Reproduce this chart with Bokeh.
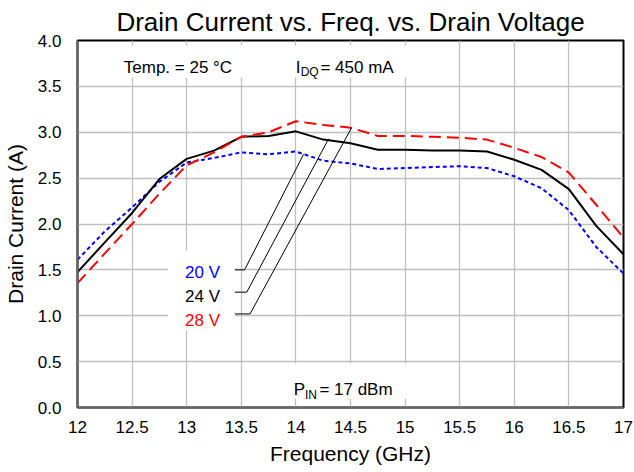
from bokeh.plotting import figure
from bokeh.models import Range1d, FixedTicker, NumeralTickFormatter, Label, BoxAnnotation, ColumnDataSource
from bokeh.embed import file_html
from bokeh.resources import INLINE

# ---- data ----
freq = [12.0, 12.25, 12.5, 12.75, 13.0, 13.25, 13.5, 13.75, 14.0, 14.25, 14.5,
        14.75, 15.0, 15.25, 15.5, 15.75, 16.0, 16.25, 16.5, 16.75, 17.0]
i_20v = [1.61, 1.92, 2.18, 2.46, 2.67, 2.72, 2.78, 2.76, 2.79, 2.69, 2.66,
         2.60, 2.61, 2.62, 2.63, 2.61, 2.52, 2.39, 2.15, 1.75, 1.46]
i_24v = [1.475, 1.80, 2.12, 2.49, 2.71, 2.80, 2.95, 2.96, 3.01, 2.92, 2.88,
         2.81, 2.81, 2.80, 2.80, 2.79, 2.70, 2.59, 2.38, 1.98, 1.67]
i_28v = [1.355, 1.68, 2.00, 2.33, 2.64, 2.78, 2.95, 3.00, 3.12, 3.08, 3.05,
         2.96, 2.96, 2.95, 2.94, 2.92, 2.83, 2.73, 2.56, 2.21, 1.85]
series_names = ["20 V", "24 V", "28 V"]
x_ticks = [12, 12.5, 13, 13.5, 14, 14.5, 15, 15.5, 16, 16.5, 17]
x_tick_labels = ["12", "12.5", "13", "13.5", "14", "14.5", "15", "15.5", "16", "16.5", "17"]
y_ticks = [0.0, 0.5, 1.0, 1.5, 2.0, 2.5, 3.0, 3.5, 4.0]

FONT = "Liberation Sans"

p = figure(width=634, height=472, output_backend="svg", toolbar_location=None,
           x_range=Range1d(12, 17), y_range=Range1d(0, 4),
           min_border_left=75, min_border_right=11, min_border_top=40, min_border_bottom=65,
           title="Drain Current vs. Freq. vs. Drain Voltage")
p.background_fill_color = "white"
p.border_fill_color = "white"
p.outline_line_color = "black"
p.outline_line_width = 2

p.title.text_font = FONT
p.title.text_font_size = "26px"
p.title.text_font_style = "normal"
p.title.text_color = "black"
p.title.align = "center"
p.title.standoff = 7

# axes
p.xaxis.ticker = FixedTicker(ticks=x_ticks)
p.xaxis.major_label_overrides = {t: l for t, l in zip(x_ticks, x_tick_labels)}
p.yaxis.ticker = FixedTicker(ticks=y_ticks)
p.yaxis.formatter = NumeralTickFormatter(format="0.0")
for ax in (p.xaxis, p.yaxis):
    ax.major_tick_out = 0
    ax.major_tick_in = 0
    ax.minor_tick_out = 0
    ax.minor_tick_in = 0
    ax.axis_line_color = "#666666"
    ax.axis_line_width = 2
    ax.major_label_text_font = FONT
    ax.major_label_text_font_size = "17px"
    ax.major_label_text_color = "black"
    ax.axis_label_text_font = FONT
    ax.axis_label_text_font_size = "21px"
    ax.axis_label_text_font_style = "normal"
    ax.axis_label_text_color = "black"
p.xaxis.axis_label = "Frequency (GHz)"
p.yaxis.axis_label = "Drain Current (A)"
p.xaxis.major_label_standoff = 13
p.xaxis.axis_label_standoff = 6
p.yaxis.major_label_standoff = 16
p.yaxis.axis_label_standoff = 8

p.xgrid.ticker = FixedTicker(ticks=x_ticks)
p.ygrid.ticker = FixedTicker(ticks=y_ticks)
for g in (p.xgrid, p.ygrid):
    g.grid_line_color = "#bfbfbf"
    g.grid_line_width = 1.3

# curves
src = ColumnDataSource(dict(f=freq, a=i_20v, b=i_24v, c=i_28v))
p.line("f", "a", source=src, line_color="#0000ff", line_width=2, line_dash="4 3")
p.line("f", "b", source=src, line_color="black", line_width=2)
p.line("f", "c", source=src, line_color="#ff0000", line_width=2, line_dash="12 6")

# white boxes behind texts
for l, r, b, t in [(12.228, 15.19, 3.597, 3.946), (13.597, 15.33, 0.098, 0.48), (12.83, 13.44, 0.839, 1.711)]:
    p.add_layout(BoxAnnotation(left=l, right=r, bottom=b, top=t, fill_color="white", fill_alpha=1.0,
                               line_alpha=0, level="annotation"))

# leader lines
leaders = [([13.44, 13.53, 14.07], [1.50, 1.50, 2.76]),
           ([13.44, 13.55, 14.30], [1.257, 1.257, 2.93]),
           ([13.44, 13.58, 14.51], [1.02, 1.02, 3.05])]
for xs, ys in leaders:
    p.line(xs, ys, line_color="black", line_width=1)

def lab(x, y, text, size="17px", color="black", align="left"):
    p.add_layout(Label(x=x, y=y, text=text, text_font=FONT, text_font_size=size,
                       text_color=color, text_align=align, text_baseline="alphabetic"))

# annotations
lab(12.92, 3.706, "Temp. = 25 °C", align="center")
lab(13.998, 3.706, "I")
lab(14.044, 3.662, "DQ", size="12px")
lab(14.225, 3.706, "= 450 mA")
lab(13.980, 0.196, "P")
lab(14.083, 0.131, "IN", size="12px")
lab(14.215, 0.196, "= 17 dBm")

# series labels
colors = ["#0000ff", "black", "#ff0000"]
label_y = [1.471, 1.21, 0.948]
for name, c, yy in zip(series_names, colors, label_y):
    lab(13.305, yy, name, color=c, align="right")

open("out.html", "w").write(file_html(p, INLINE))
